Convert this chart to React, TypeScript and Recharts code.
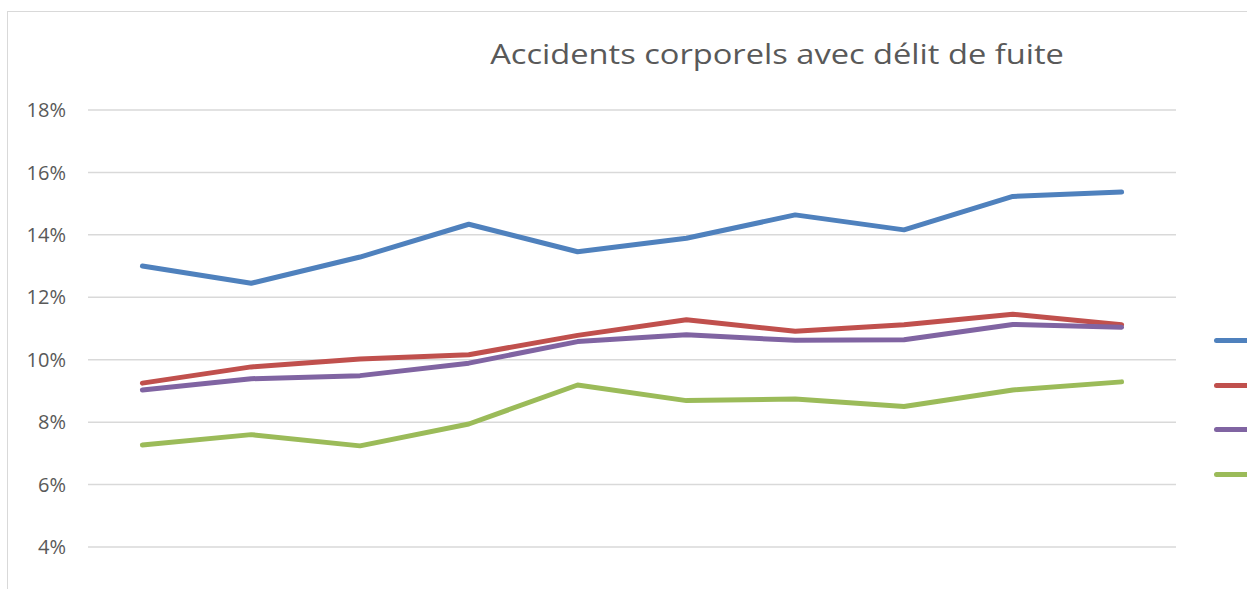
import React from "react";
import { LineChart, Line, XAxis, YAxis, CartesianGrid } from "recharts";

// points along the (unlabelled) horizontal axis
const categories = ["1", "2", "3", "4", "5", "6", "7", "8", "9", "10"];

// values in %
const serie1 = [13.0, 12.45, 13.29, 14.34, 13.46, 13.89, 14.64, 14.16, 15.23, 15.37];
const serie2 = [9.25, 9.77, 10.02, 10.16, 10.78, 11.28, 10.91, 11.12, 11.46, 11.12];
const serie3 = [9.03, 9.39, 9.49, 9.89, 10.58, 10.8, 10.62, 10.64, 11.13, 11.04];
const serie4 = [7.27, 7.6, 7.24, 7.94, 9.19, 8.69, 8.74, 8.5, 9.03, 9.29];

const seriesKeys = ["s1", "s2", "s3", "s4"];
const seriesNames = ["Série 1", "Série 2", "Série 3", "Série 4"];
const seriesColors = ["#4F81BD", "#C0504D", "#8064A2", "#9BBB59"];
const yTicks = [4, 6, 8, 10, 12, 14, 16, 18];

const title = "Accidents corporels avec délit de fuite";

const data = categories.map((c, i) => ({
  name: c,
  s1: serie1[i],
  s2: serie2[i],
  s3: serie3[i],
  s4: serie4[i],
}));

const FONT = "'Open Sans', sans-serif";
const TEXT = "#595959";

// legend: only the line swatches show, the labels fall outside the frame
function LegendSwatches() {
  return (
    <div style={{ position: "absolute", left: 1214, top: 318 }}>
      {seriesColors.map((c, i) => (
        <div
          key={seriesKeys[i]}
          style={{ height: 44.7, display: "flex", alignItems: "center" }}
        >
          <div style={{ width: 60, height: 5, borderRadius: 3, background: c }} />
        </div>
      ))}
    </div>
  );
}

export default function App() {
  return (
    <div
      style={{
        position: "fixed",
        left: 0,
        top: 0,
        width: 1247,
        height: 589,
        overflow: "hidden",
        background: "#fff",
      }}
    >
      <div
        style={{
          position: "absolute",
          left: 7,
          top: 11,
          width: 2000,
          height: 2000,
          border: "1px solid #d9d9d9",
        }}
      />
      <div
        style={{
          position: "absolute",
          left: 0,
          top: 34,
          width: 1554,
          textAlign: "center",
          fontFamily: FONT,
          fontSize: 28,
          color: TEXT,
          transform: "scaleX(1.165)",
          transformOrigin: "777px 0",
        }}
      >
        {title}
      </div>
      <div style={{ position: "absolute", left: 0, top: 0 }}>
        <LineChart
          width={1247}
          height={589}
          data={data}
          margin={{ top: 110, right: 71, bottom: 42, left: 0 }}
        >
          <CartesianGrid vertical={false} stroke="#d9d9d9" strokeWidth={1.5} />
          <XAxis dataKey="name" hide padding={{ left: 54.4, right: 54.4 }} />
          <YAxis
            width={88}
            domain={[4, 18]}
            ticks={yTicks}
            interval={0}
            axisLine={false}
            tickLine={false}
            tickMargin={16}
            tickFormatter={(v: number) => `${v}%`}
            tick={{ fill: TEXT, fontSize: 20, fontFamily: FONT }}
          />
          {seriesKeys.map((k, i) => (
            <Line
              key={k}
              type="linear"
              dataKey={k}
              name={seriesNames[i]}
              stroke={seriesColors[i]}
              strokeWidth={5}
              strokeLinecap="round"
              strokeLinejoin="round"
              dot={false}
              activeDot={false}
              isAnimationActive={false}
            />
          ))}
        </LineChart>
      </div>
      <LegendSwatches />
    </div>
  );
}
